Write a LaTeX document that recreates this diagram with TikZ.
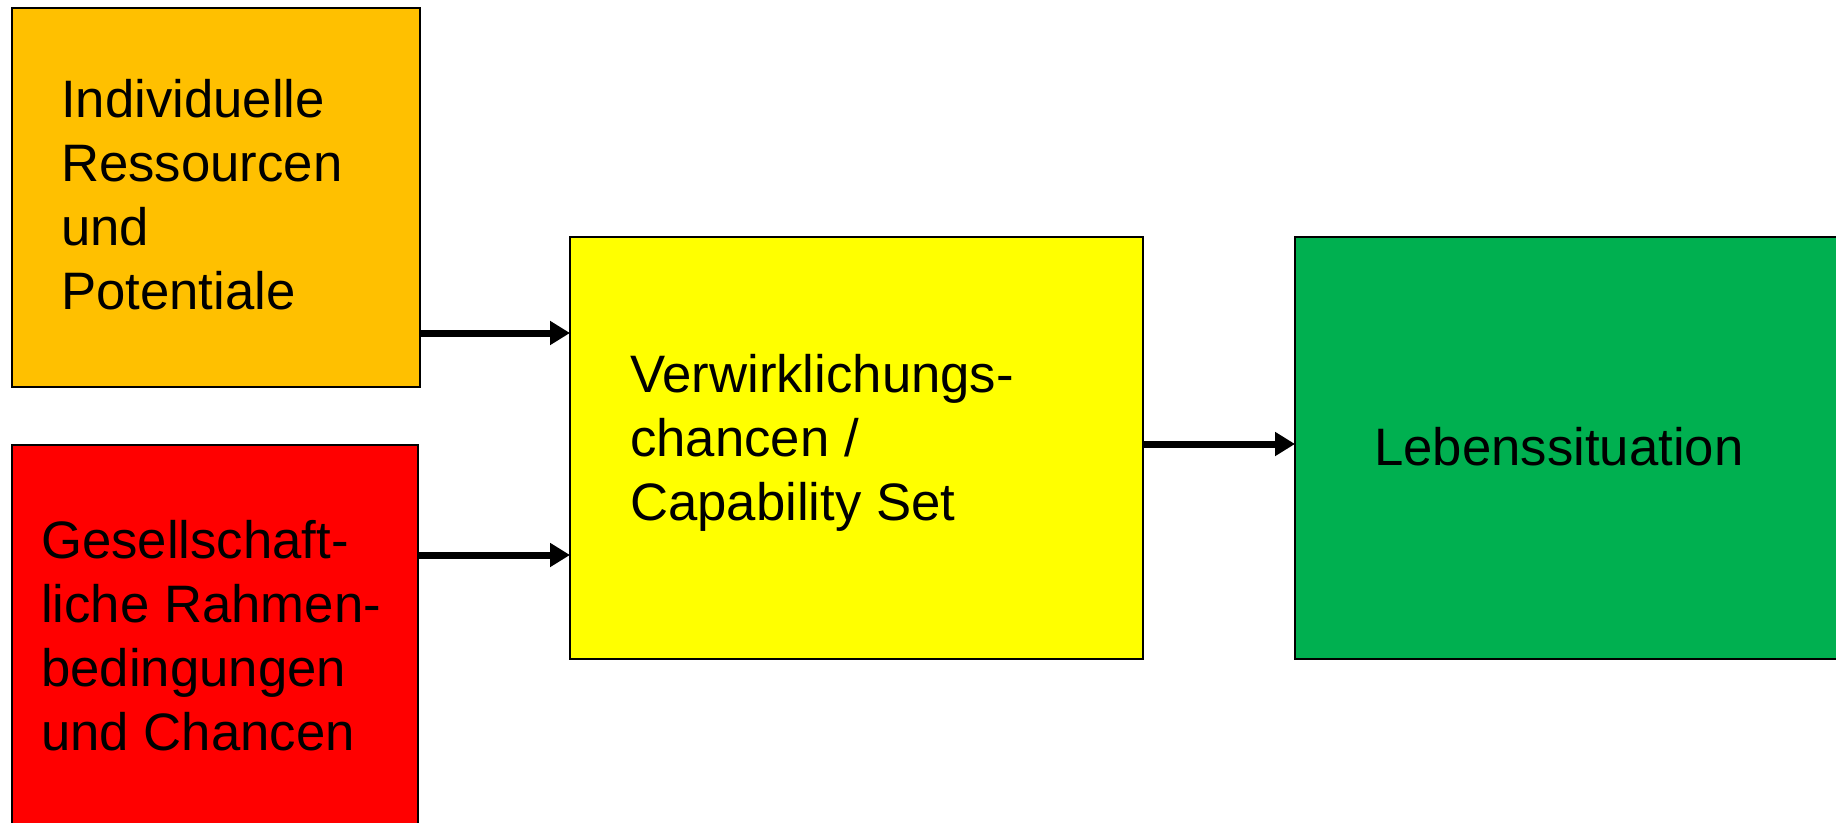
\documentclass[tikz,border=0pt]{standalone}
\usepackage{fontspec}
\setmainfont{Liberation Sans}
\usetikzlibrary{arrows.meta}

\definecolor{boxorange}{HTML}{FFC000}
\definecolor{boxred}{HTML}{FF0000}
\definecolor{boxyellow}{HTML}{FFFF00}
\definecolor{boxgreen}{HTML}{00B050}

\tikzset{
  panel/.style={draw=black, line width=2pt, inner sep=0pt, outer sep=0pt, anchor=north west},
  % anchored at the baseline of the last line of text
  caption/.style={anchor=base west, inner sep=0pt, align=left,
    font=\fontsize{52.7}{64}\selectfont},
  flow/.style={line width=7pt, -{Triangle[length=20pt,width=23pt]}}
}

\begin{document}
\begin{tikzpicture}[x=1pt, y=-1pt]
  \useasboundingbox (0,0) rectangle (1836,822);
  \clip (0,0) rectangle (1836,822);

  % boxes
  \node[panel, fill=boxorange, minimum width=408pt, minimum height=379pt] (res) at (12,8) {};
  \node[panel, fill=boxred, minimum width=406pt, minimum height=460pt] (ges) at (12,445) {};
  \node[panel, fill=boxyellow, minimum width=573pt, minimum height=422pt] (cap) at (570,237) {};
  \node[panel, fill=boxgreen, minimum width=600pt, minimum height=422pt] (leb) at (1295,237) {};

  % texts
  \node[caption] (tres) at (61,309) {Individuelle\\Ressourcen\\und\\Potentiale};
  \node[caption] (tges) at (41,750) {Gesellschaft-\\liche Rahmen-\\bedingungen\\und Chancen};
  \node[caption] (tcap) at (630,520) {Verwirklichungs-\\chancen /\\Capability Set};
  \node[caption] (tleb) at (1374,465) {Lebenssituation};

  % connectors
  \coordinate (r1) at (0,333);
  \coordinate (r2) at (0,555);
  \coordinate (r3) at (0,444);
  \draw[flow] (res.east |- r1) -- (cap.west |- r1);
  \draw[flow] (ges.east |- r2) -- (cap.west |- r2);
  \draw[flow] (cap.east |- r3) -- (leb.west |- r3);
\end{tikzpicture}
\end{document}
